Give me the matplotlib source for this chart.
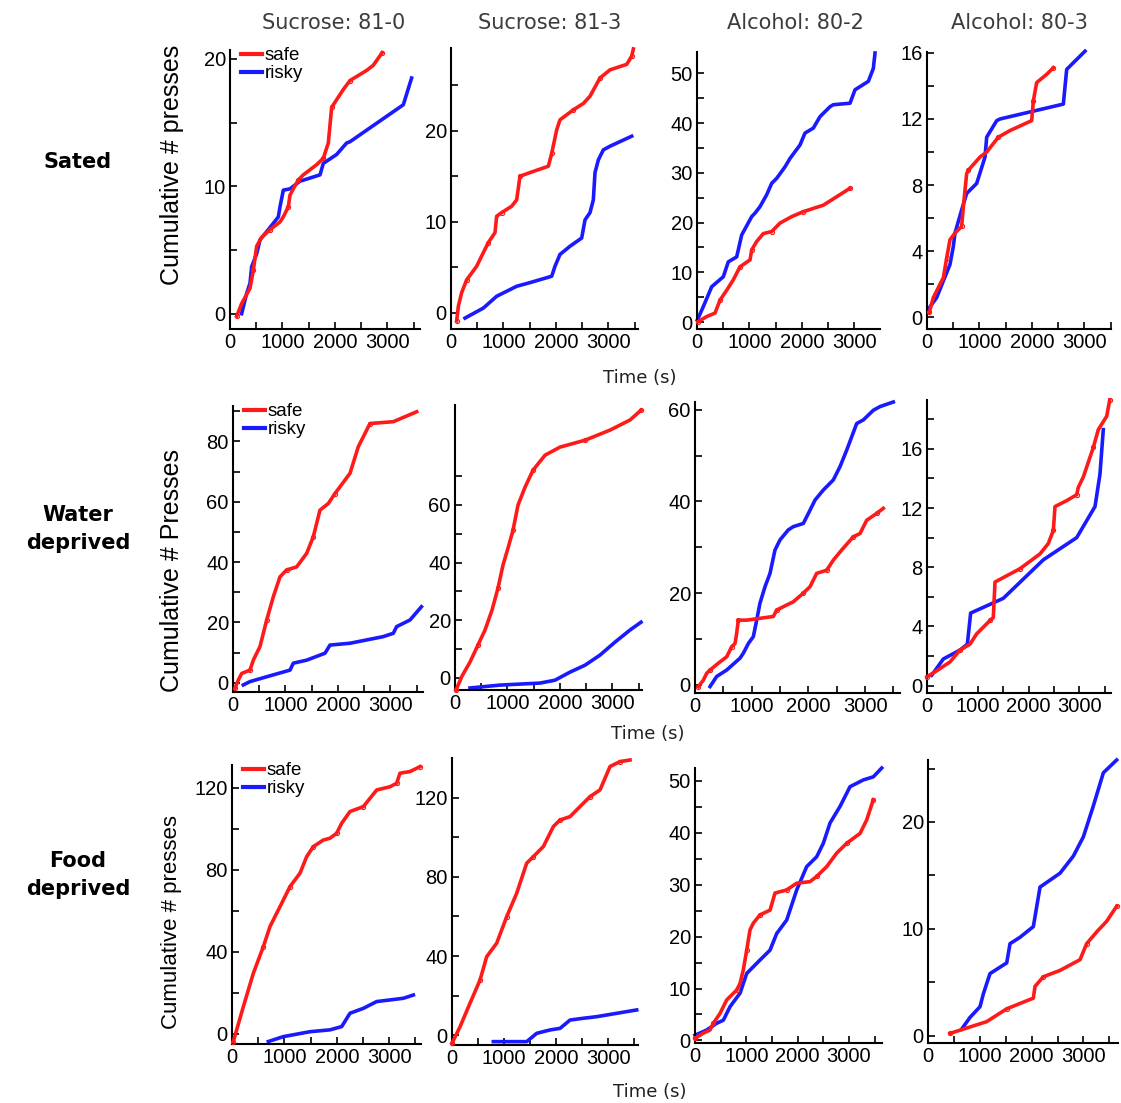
import matplotlib
matplotlib.use("Agg")
import matplotlib.pyplot as plt

# ---- data: cumulative presses vs time (s) ----
col_titles = ["Sucrose: 81-0", "Sucrose: 81-3", "Alcohol: 80-2", "Alcohol: 80-3"]
row_titles = ["Sated", "Water\ndeprived", "Food\ndeprived"]
ylabels = ["Cumulative # presses", "Cumulative # Presses", "Cumulative # presses"]

# row 1 - sated
s11_t = [127, 222, 381, 444, 508, 603, 762, 952, 1016, 1111, 1143, 1206, 1301, 1397, 1651, 1778, 1873, 1905, 1937, 2032, 2159, 2286, 2604, 2730, 2900]
s11_n = [-0.2, 0.8, 2.0, 3.4, 5.3, 6.0, 6.6, 7.2, 7.6, 8.4, 9.3, 9.8, 10.5, 10.9, 11.7, 12.2, 13.4, 14.8, 16.2, 16.8, 17.6, 18.3, 19.1, 19.5, 20.5]
r11_t = [222, 318, 381, 413, 508, 572, 730, 921, 953, 1016, 1143, 1333, 1715, 1778, 2032, 2222, 2286, 3302, 3460]
r11_n = [0.0, 1.6, 2.4, 3.7, 4.7, 5.8, 6.6, 7.6, 8.4, 9.7, 9.8, 10.4, 10.9, 11.8, 12.5, 13.4, 13.5, 16.4, 18.5]

s12_t = [108, 140, 203, 298, 489, 616, 711, 838, 870, 965, 1156, 1251, 1314, 1505, 1854, 1918, 2013, 2076, 2330, 2521, 2648, 2838, 3029, 3347, 3442, 3474]
s12_n = [-0.9, 0.7, 2.2, 3.6, 5.1, 6.6, 7.7, 8.8, 10.6, 11.0, 11.7, 12.4, 15.0, 15.4, 16.1, 17.5, 20.1, 21.2, 22.3, 23.0, 23.8, 25.8, 26.7, 27.3, 28.2, 29.0]
r12_t = [267, 616, 870, 1251, 1505, 1918, 1981, 2076, 2267, 2489, 2553, 2648, 2711, 2743, 2807, 2902, 3029, 3442]
r12_n = [-0.6, 0.5, 1.8, 2.9, 3.3, 4.0, 5.1, 6.4, 7.3, 8.2, 10.2, 11.0, 12.4, 15.4, 16.8, 17.9, 18.3, 19.4]

s13_t = [25, 185, 343, 438, 566, 692, 819, 914, 1010, 1042, 1137, 1264, 1423, 1581, 1804, 2026, 2407, 2661, 2915]
s13_n = [0.1, 1.1, 1.8, 4.4, 6.4, 8.5, 11.1, 11.8, 12.5, 14.5, 16.2, 17.8, 18.2, 19.9, 21.2, 22.2, 23.5, 25.2, 26.9]
r13_t = [6, 120, 280, 501, 596, 756, 851, 1042, 1105, 1200, 1328, 1423, 1518, 1676, 1772, 1962, 2057, 2216, 2343, 2534, 2597, 2915, 3010, 3264, 3359, 3391]
r13_n = [0.4, 3.1, 7.1, 9.1, 12.1, 13.1, 17.5, 21.2, 21.9, 23.2, 25.6, 27.9, 28.9, 31.2, 32.9, 35.6, 38.0, 39.0, 41.3, 43.3, 43.7, 44.0, 46.7, 48.4, 51.0, 54.1]

s14_t = [44, 120, 311, 375, 438, 533, 660, 692, 756, 787, 1010, 1137, 1359, 1581, 1994, 2026, 2089, 2280, 2407]
s14_n = [0.3, 1.2, 2.4, 3.6, 4.7, 5.1, 5.5, 6.7, 8.7, 8.9, 9.7, 10.0, 10.9, 11.3, 11.9, 13.1, 14.2, 14.7, 15.1]
r14_t = [25, 184, 311, 438, 502, 533, 660, 756, 946, 1105, 1137, 1328, 1391, 2597, 2661, 3010]
r14_n = [0.5, 1.2, 2.2, 3.2, 4.3, 5.1, 6.5, 7.5, 8.1, 9.7, 10.9, 11.9, 12.0, 12.9, 15.0, 16.1]

# row 2 - water deprived
s21_t = [38, 101, 166, 324, 387, 514, 642, 768, 895, 1023, 1213, 1404, 1530, 1657, 1816, 1943, 2229, 2387, 2610, 3054, 3500]
s21_n = [-1.8, 0.9, 3.1, 4.2, 7.5, 12.0, 20.8, 28.5, 35.1, 37.4, 38.4, 42.9, 48.4, 57.2, 59.4, 62.7, 69.4, 78.2, 85.9, 86.5, 89.8]
r21_t = [197, 324, 642, 1086, 1149, 1404, 1753, 1848, 2229, 2546, 2864, 3054, 3117, 3372, 3590]
r21_n = [-0.7, 0.4, 2.0, 4.2, 6.5, 7.5, 9.8, 12.5, 13.1, 14.2, 15.3, 16.4, 18.6, 20.8, 25.2]

s22_t = [19, 133, 286, 438, 572, 705, 819, 914, 1010, 1105, 1200, 1334, 1486, 1715, 2000, 2477, 2953, 3334, 3543]
s22_n = [-4.2, 0.6, 5.5, 11.4, 16.6, 23.5, 31.1, 39.1, 45.0, 51.2, 59.9, 66.1, 72.0, 77.2, 80.0, 82.4, 85.9, 89.4, 92.8]
r22_t = [286, 857, 1619, 1905, 2191, 2477, 2762, 3048, 3334, 3543]
r22_n = [-3.5, -2.5, -1.8, -0.8, 2.0, 4.4, 7.9, 12.4, 16.6, 19.3]

s23_t = [59, 147, 206, 265, 411, 559, 647, 706, 735, 764, 912, 1382, 1441, 1617, 1734, 1911, 2029, 2146, 2323, 2440, 2587, 2793, 2911, 3029, 3205, 3322]
s23_n = [-0.4, 1.0, 2.5, 3.2, 4.7, 6.1, 8.3, 9.0, 11.2, 14.1, 14.1, 14.9, 16.3, 17.4, 18.1, 20.0, 21.4, 24.3, 25.0, 27.2, 29.4, 32.3, 33.0, 35.9, 37.4, 38.5]
r23_t = [265, 382, 558, 794, 853, 941, 1029, 1088, 1146, 1235, 1323, 1411, 1499, 1646, 1734, 1911, 2029, 2117, 2264, 2440, 2558, 2676, 2764, 2852, 2970, 3146, 3263, 3498]
r23_n = [-0.4, 1.8, 3.2, 5.8, 6.9, 9.0, 10.5, 14.1, 17.8, 21.4, 24.3, 29.4, 31.6, 33.8, 34.5, 35.2, 38.1, 40.3, 42.5, 44.7, 47.6, 51.2, 54.1, 57.0, 57.8, 59.9, 60.7, 61.7]

s24_t = [0, 191, 453, 650, 847, 979, 1241, 1306, 1340, 1832, 2226, 2390, 2489, 2522, 2752, 2949, 2981, 3080, 3277, 3375, 3540, 3600]
s24_n = [0.6, 1.0, 1.6, 2.4, 2.8, 3.5, 4.4, 4.6, 7.0, 7.9, 8.9, 9.6, 10.5, 12.1, 12.5, 12.9, 13.4, 14.1, 16.1, 17.3, 18.2, 19.3]
r24_t = [92, 322, 650, 795, 860, 1504, 2292, 2949, 3310, 3408, 3473]
r24_n = [0.7, 1.8, 2.4, 2.8, 4.9, 5.9, 8.5, 10.0, 12.1, 14.3, 17.3]

# row 3 - food deprived
s31_t = [25, 216, 407, 598, 725, 916, 1107, 1297, 1425, 1552, 1743, 1870, 1997, 2093, 2251, 2506, 2760, 3015, 3142, 3205, 3396, 3587]
s31_n = [-3.7, 13.3, 29.6, 42.6, 52.4, 62.1, 71.9, 78.4, 86.5, 91.4, 94.6, 95.5, 97.9, 102.8, 108.5, 110.9, 119.0, 120.6, 122.3, 127.2, 128.0, 130.4]
r31_t = [693, 979, 1488, 1870, 2093, 2251, 2506, 2760, 3269, 3460]
r31_n = [-3.7, -1.3, 1.1, 2.0, 3.6, 10.1, 12.5, 15.8, 17.4, 19.0]

s32_t = [0, 154, 346, 538, 666, 858, 1050, 1242, 1434, 1562, 1754, 1946, 2074, 2266, 2458, 2650, 2842, 3034, 3226, 3418]
s32_n = [-4.0, 4.3, 16.2, 27.9, 39.7, 46.5, 59.9, 71.7, 86.9, 90.2, 95.3, 105.4, 108.7, 110.4, 115.5, 120.5, 123.9, 135.7, 138.2, 139.0]
r32_t = [794, 1434, 1626, 1882, 2074, 2266, 2522, 2778, 3162, 3546]
r32_n = [-3.2, -3.2, 1.0, 2.7, 3.5, 7.7, 8.6, 9.4, 11.1, 12.8]

s33_t = [0, 162, 293, 357, 488, 618, 813, 878, 942, 1008, 1073, 1137, 1268, 1463, 1560, 1788, 1983, 2243, 2373, 2568, 2763, 2958, 3218, 3348, 3477]
s33_n = [0.4, 1.4, 2.0, 3.3, 5.2, 7.8, 9.7, 11.0, 13.6, 17.4, 21.3, 22.6, 24.2, 25.1, 28.4, 29.0, 30.3, 30.6, 31.6, 33.5, 36.1, 38.0, 39.9, 42.5, 46.4]
r33_t = [0, 228, 423, 553, 683, 878, 1008, 1268, 1463, 1593, 1788, 1983, 2178, 2373, 2502, 2633, 2828, 3023, 3282, 3477, 3641]
r33_n = [1.0, 2.0, 3.3, 3.9, 6.5, 9.1, 12.9, 15.5, 17.4, 20.6, 23.2, 29.0, 33.5, 35.4, 38.0, 41.9, 45.1, 48.9, 50.2, 50.8, 52.5]

s34_t = [425, 618, 1133, 1519, 2033, 2065, 2226, 2548, 2934, 3062, 3255, 3448, 3641]
s34_n = [0.2, 0.5, 1.3, 2.5, 3.5, 4.6, 5.5, 6.1, 7.1, 8.6, 9.7, 10.7, 12.1]
r34_t = [650, 811, 1004, 1068, 1197, 1519, 1583, 1776, 2033, 2162, 2548, 2805, 2998, 3191, 3384, 3641]
r34_n = [0.6, 1.7, 2.7, 3.9, 5.8, 6.8, 8.6, 9.2, 10.2, 13.9, 15.2, 16.8, 18.6, 21.5, 24.6, 25.8]

safe = [[(s11_t, s11_n), (s12_t, s12_n), (s13_t, s13_n), (s14_t, s14_n)],
        [(s21_t, s21_n), (s22_t, s22_n), (s23_t, s23_n), (s24_t, s24_n)],
        [(s31_t, s31_n), (s32_t, s32_n), (s33_t, s33_n), (s34_t, s34_n)]]
risky = [[(r11_t, r11_n), (r12_t, r12_n), (r13_t, r13_n), (r14_t, r14_n)],
         [(r21_t, r21_n), (r22_t, r22_n), (r23_t, r23_n), (r24_t, r24_n)],
         [(r31_t, r31_n), (r32_t, r32_n), (r33_t, r33_n), (r34_t, r34_n)]]

yticks = [[[0, 10, 20], [0, 10, 20], [0, 10, 20, 30, 40, 50], [0, 4, 8, 12, 16]],
          [[0, 20, 40, 60, 80], [0, 20, 40, 60], [0, 20, 40, 60], [0, 4, 8, 12, 16]],
          [[0, 40, 80, 120], [0, 40, 80, 120], [0, 10, 20, 30, 40, 50], [0, 10, 20]]]

# ---- layout (pixels of a 1121 x 1103 canvas) ----
W, H = 1121, 1103
# left, top, right, bottom
rects = [[(230, 50, 420, 329), (451, 48, 638, 329), (697, 52, 880, 329), (927, 52, 1111, 329)],
         [(233, 406, 423, 692), (455, 405, 642, 690), (695, 402, 900, 693), (927, 400, 1111, 693)],
         [(232, 765, 421, 1044), (452, 758, 638, 1045), (695, 768, 882, 1043), (928, 760, 1118, 1043)]]
xmax = [[3620, 3562, 3486, 3505],
        [3620, 3562, 3616, 3625],
        [3606, 3571, 3646, 3667]]
ylims = [[(-1.2, 20.7), (-1.8, 29.1), (-1.4, 54.3), (-0.7, 16.05)],
         [(-3.05, 91.7), (-4.2, 94.6), (-1.8, 61.7), (-0.5, 19.3)],
         [(-4.9, 131.2), (-4.9, 140.0), (-0.5, 52.5), (-0.7, 25.8)]]

RED = "#ff1a1a"
BLUE = "#1a1aff"
tick_font = "Liberation Sans"

fig = plt.figure(figsize=(W / 100, H / 100), dpi=100)

for i in range(3):
    for j in range(4):
        l, t, r, b = rects[i][j]
        ax = fig.add_axes([l / W, 1 - b / H, (r - l) / W, (b - t) / H])
        st, sn = safe[i][j]
        rt, rn = risky[i][j]
        ax.plot(st, sn, color=RED, lw=2.6, marker="o", ms=3, mfc="none",
                mew=0.8, markevery=3, clip_on=False, label="safe", zorder=3)
        ax.plot(rt, rn, color=BLUE, lw=2.6, clip_on=False, label="risky", zorder=2)
        ax.set_xlim(0, xmax[i][j])
        ax.set_ylim(*ylims[i][j])
        ax.set_xticks([0, 1000, 2000, 3000])
        ax.set_xticks(range(500, int(xmax[i][j]), 1000), minor=True)
        yt = yticks[i][j]
        ax.set_yticks(yt)
        step = yt[1] - yt[0]
        ax.set_yticks([v + step / 2 for v in yt if v + step / 2 < ylims[i][j][1]], minor=True)
        for s in ("top", "right"):
            ax.spines[s].set_visible(False)
        for s in ("left", "bottom"):
            ax.spines[s].set_linewidth(1.5)
        ax.tick_params(which="both", direction="in", length=5, width=1.2, pad=3)
        ax.tick_params(which="minor", labelleft=False, labelbottom=False)
        for lbl in ax.get_xticklabels() + ax.get_yticklabels():
            lbl.set_fontfamily(tick_font)
            lbl.set_fontsize(14.5)
        if j == 0:
            ax.legend(loc="upper left", bbox_to_anchor=(0.0, 1.05), frameon=False,
                      handlelength=1.1, handletextpad=0.15, labelspacing=0.05,
                      borderaxespad=0.2, prop={"family": tick_font, "size": 13.5})
            for line in ax.get_legend().get_lines():
                line.set_marker("")
                line.set_linewidth(3)

# column titles
title_x = [334, 550, 795, 1019]
for j, name in enumerate(col_titles):
    fig.text(title_x[j] / W, 1 - 23 / H, name, ha="center", va="center",
             fontsize=15, color="#3c3c3c", family="DejaVu Sans")

# row titles and y labels
row_y = [162, 529, 875]
ylab_y = [165, 570, 922]
ylab_size = [18, 18, 16]
for i in range(3):
    fig.text(78 / W, 1 - row_y[i] / H, row_titles[i], ha="center", va="center",
             fontsize=15, fontweight="bold", family="DejaVu Sans", linespacing=1.5)
    fig.text(172 / W, 1 - ylab_y[i] / H, ylabels[i], ha="center", va="center",
             rotation=90, fontsize=ylab_size[i], family=tick_font)

# x labels
time_x = [640, 648, 650]
time_y = [378, 734, 1092]
for x, y in zip(time_x, time_y):
    fig.text(x / W, 1 - y / H, "Time (s)", ha="center", va="center",
             fontsize=13, color="#202020", family="DejaVu Sans")

fig.savefig("out.png", dpi=100)
